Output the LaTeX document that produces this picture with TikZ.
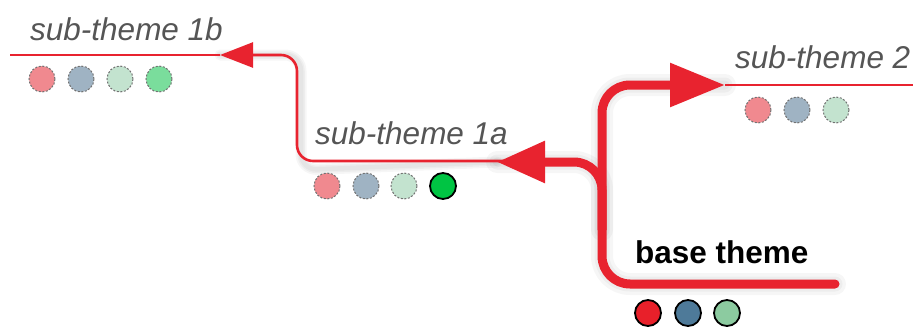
\documentclass[tikz,border=0pt]{standalone}
\usepackage{fontspec}
\setmainfont{Liberation Sans}
\usetikzlibrary{arrows.meta}
\definecolor{themered}{HTML}{E8232F}
\definecolor{labelgray}{HTML}{555555}
\definecolor{dotpink}{HTML}{F0898F}
\definecolor{dotblue}{HTML}{9FB3C3}
\definecolor{dotmint}{HTML}{C3E3CF}
\definecolor{dotgreen}{HTML}{7ADD9C}
\definecolor{dotlive}{HTML}{00C443}
\definecolor{dotred}{HTML}{E8202A}
\definecolor{dotsteel}{HTML}{4E7A99}
\definecolor{dotsage}{HTML}{8CCBA0}
\tikzset{
  sublabel/.style={anchor=base west, inner sep=0pt, text=labelgray,
    font=\fontsize{31.5}{31.5}\selectfont\itshape},
  baselabel/.style={anchor=base west, inner sep=0pt, text=black,
    font=\fontsize{31.5}{31.5}\selectfont\bfseries},
  ghostdot/.style={circle, minimum size=26pt, inner sep=0pt,
    draw=black!55, dashed, dash pattern=on 2pt off 1.6pt, line width=1pt},
  realdot/.style={circle, minimum size=26pt, inner sep=0pt,
    draw=black, line width=1.8pt},
  thinline/.style={draw=themered, line width=1.6pt},
  linkline/.style={draw=themered, line width=2.6pt, rounded corners=16pt},
  mainline/.style={draw=themered, line width=9pt, rounded corners=28pt},
  haze/.style={draw=black, opacity=0.035, line cap=round, line join=round}
}
\begin{document}
\begin{tikzpicture}[x=1pt,y=-1pt]
\useasboundingbox (0,0) rectangle (913,327);

% anchor points of the theme lines
\coordinate (baseEnd) at (835,284);
\coordinate (baseFork) at (602,284);
\coordinate (forkMid) at (602,230);
\coordinate (twoTip) at (725,85);
\coordinate (twoEnd) at (913,85);
\coordinate (oneaTip) at (497,162);
\coordinate (oneaEnd) at (540,161);
\coordinate (onebTip) at (220,55);
\coordinate (onebEnd) at (10,55);

% soft shadow under the branches
\begin{scope}[shift={(4,9)}]
  \foreach \w in {22,15,9}{
    \draw[haze, line width=\w pt, rounded corners=28pt]
      (baseEnd) -- (baseFork) |- (twoTip);
    \draw[haze, line width=\w pt, rounded corners=28pt]
      (forkMid) |- (oneaTip);
    \draw[haze, line width=0.5*\w pt, rounded corners=16pt]
      (oneaTip) -- (297,161) |- (onebTip);
  }
\end{scope}

% sub-theme baselines
\draw[thinline] (onebTip) -- (onebEnd);
\draw[thinline] (twoTip) -- (twoEnd);

% sub-theme 1a line and its link to sub-theme 1b
\draw[linkline, -{Triangle[length=33pt,width=25pt]}]
  (oneaEnd) -- (297,161) |- (onebTip);

% base theme line and its branches
\draw[mainline, -{Triangle[length=48pt,width=40pt]}]
  (forkMid) |- (oneaTip);
\draw[mainline, line cap=round, -{Triangle[length=55pt,width=42pt]}]
  (baseEnd) -- (baseFork) |- (twoTip);

% labels
\node[sublabel] (lab1b) at (30,40) {sub-theme 1b};
\node[sublabel] (lab1a) at (315,144) {sub-theme 1a};
\node[sublabel] (lab2) at (735,68) {sub-theme 2};
\node[baselabel] (labbase) at (635,263) {base theme};

% colour dots
\node[ghostdot, fill=dotpink] (d1b1) at (42,79) {};
\node[ghostdot, fill=dotblue] (d1b2) at (81,79) {};
\node[ghostdot, fill=dotmint] (d1b3) at (120,79) {};
\node[ghostdot, fill=dotgreen] (d1b4) at (159,79) {};

\node[ghostdot, fill=dotpink] (d1a1) at (327,186) {};
\node[ghostdot, fill=dotblue] (d1a2) at (366,186) {};
\node[ghostdot, fill=dotmint] (d1a3) at (404,186) {};
\node[realdot, fill=dotlive] (d1a4) at (443,186) {};

\node[ghostdot, fill=dotpink] (d21) at (758,110) {};
\node[ghostdot, fill=dotblue] (d22) at (797,110) {};
\node[ghostdot, fill=dotmint] (d23) at (836,110) {};

\node[realdot, fill=dotred] (db1) at (648,313) {};
\node[realdot, fill=dotsteel] (db2) at (688,313) {};
\node[realdot, fill=dotsage] (db3) at (727,313) {};
\end{tikzpicture}
\end{document}
